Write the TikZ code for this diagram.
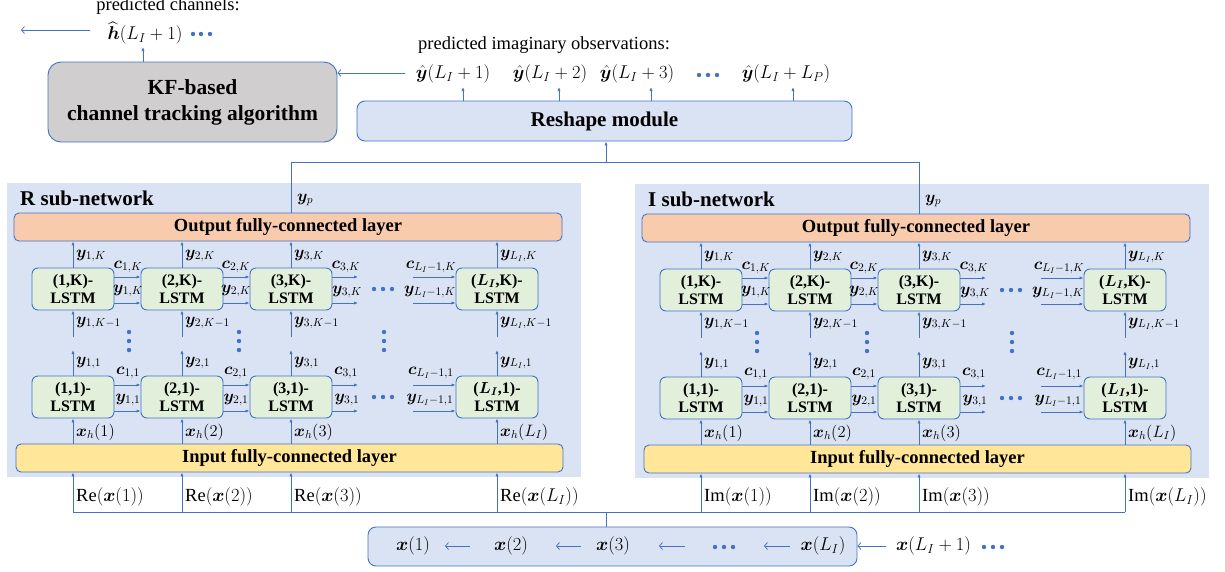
\RequirePackage{fix-cm}
\documentclass[tikz,border=0pt]{standalone}
\usepackage{amsmath}
\usepackage{bm}
\usepackage{fontspec}
\setmainfont{Liberation Serif}
\usetikzlibrary{arrows.meta}
\definecolor{lb}{HTML}{4472C4}
\definecolor{panelc}{HTML}{DAE3F3}
\definecolor{outc}{HTML}{F8CBAD}
\definecolor{inc}{HTML}{FFE699}
\definecolor{lstmc}{HTML}{E2EFDA}
\definecolor{kfc}{HTML}{D0CECE}
\tikzset{
 conn/.style={draw=lb, line width=0.75pt},
 arr/.style={conn, -{Latex[length=4pt,width=3.2pt]}},
 barb/.style={conn, -{Straight Barb[length=3pt,width=7pt]}},
 rbox/.style={draw=lb, line width=0.9pt, inner sep=0pt, align=center},
 lstm/.style={rbox, rounded corners=6pt, fill=lstmc, minimum width=82pt, minimum height=42pt, font=\bfseries\fontsize{16}{18}\selectfont},
 layer/.style={rbox, rounded corners=5pt, minimum height=28pt, font=\bfseries\fontsize{18.5}{20}\selectfont},
 lab/.style={inner sep=0pt, font=\fontsize{16.5}{18}\selectfont},
 big/.style={inner sep=0pt, font=\fontsize{18.5}{20}\selectfont},
 plain/.style={inner sep=0pt, font=\fontsize{18.5}{20}\selectfont},
 title/.style={inner sep=0pt, font=\bfseries\fontsize{21}{23}\selectfont},
}
\begin{document}
\begin{tikzpicture}[x=1pt,y=-1pt]
\useasboundingbox (0,0) rectangle (1225,571);

% ---------- top ----------
\node[plain, anchor=base] (pch) at (168,10) {predicted channels:};
\node[big] (hh) at (145,33) {$\widehat{\bm{h}}(L_I+1)$};
\foreach \xx in {193,201,210} \fill[lb] (\xx,34) circle (2.2pt);
\coordinate (hs) at (90,30);
\coordinate (he) at (21,30);
\draw[barb] (hs) -- (he);
\node[rbox, fill=kfc, rounded corners=13pt, minimum width=289pt, minimum height=80pt,
      font=\bfseries\fontsize{21.5}{26}\selectfont] (kf) at (192.5,102) {KF-based\\channel tracking algorithm};
\coordinate (hin) at (143,47);
\draw[arr] (kf.north -| hin) -- (hin);

\node[plain, anchor=base] (pio) at (544,49) {predicted imaginary observations:};
\node[big] (yh1) at (453,74) {$\hat{\bm{y}}(L_I+1)$};
\node[big] (yh2) at (550,74) {$\hat{\bm{y}}(L_I+2)$};
\node[big] (yh3) at (637,74) {$\hat{\bm{y}}(L_I+3)$};
\foreach \xx in {699,708,717} \fill[lb] (\xx,75) circle (2.2pt);
\node[big] (yhP) at (786,74) {$\hat{\bm{y}}(L_I+L_P)$};
\node[rbox, fill=panelc, rounded corners=8pt, minimum width=495pt, minimum height=40pt,
      font=\bfseries\fontsize{21}{23}\selectfont] (rs) at (604.5,121) {Reshape module};
\foreach \k/\xx in {1/463,2/559,3/651,4/793} {
  \coordinate (o\k) at (\xx,87);
  \draw[arr] (rs.north -| o\k) -- (o\k);
}
\coordinate (ys) at (405,73);
\draw[barb] (ys) -- (ys -| kf.east);

% ---------- sub-networks ----------
\foreach \pn/\dx/\dy in {R/0/0, I/628/1} {
\begin{scope}[shift={(\dx,\dy)}]
 \fill[panelc] (7,183) rectangle (581,477);
 \node[title, anchor=west] (\pn title) at (20,198) {\pn{} sub-network};
 \node[lab, anchor=west] (\pn yp) at (297,200) {$\bm{y}_p$};
 \node[layer, fill=outc, minimum width=548pt] (\pn out) at (288,227) {Output fully-connected layer};
 \node[layer, fill=inc, minimum width=547pt] (\pn in) at (289.5,458) {Input fully-connected layer};
 \foreach \i/\cx/\s/\tx in {1/73/1/1, 2/182/2/2, 3/291/3/3, L/497/L_I/{$\bm{L_I}$}} {
  \node[lstm] (\pn\i t) at (\cx,289) {(\tx,K)-\\LSTM};
  \node[lstm] (\pn\i b) at (\cx,397) {(\tx,1)-\\LSTM};
  \draw[arr] (\pn\i t.north) -- (\pn\i t.north |- \pn out.south);
  \node[lab, anchor=west] (\pn\i yk) at (\cx+3,256) {$\bm{y}_{\s,K}$};
  \coordinate (\pn\i tl) at (\cx,337);
  \draw[arr] (\pn\i tl) -- (\pn\i t.south);
  \node[lab, anchor=west] (\pn\i ykm) at (\cx+3,323) {$\bm{y}_{\s,K-1}$};
  \coordinate (\pn\i bu) at (\cx,350);
  \draw[arr] (\pn\i b.north) -- (\pn\i bu);
  \node[lab, anchor=west] (\pn\i yo) at (\cx+3,363) {$\bm{y}_{\s,1}$};
  \draw[arr] (\pn\i b.south |- \pn in.north) -- (\pn\i b.south);
  \node[lab, anchor=west] (\pn\i xh) at (\cx+3,432) {$\bm{x}_h(\s)$};
 }
 \foreach \a/\b/\m in {1/2/128, 2/3/236} {
  \draw[arr] (\pn\a t.east |- 0,277) -- (\pn\b t.west |- 0,277);
  \draw[arr] (\pn\a t.east |- 0,303) -- (\pn\b t.west |- 0,303);
  \draw[arr] (\pn\a b.east |- 0,385) -- (\pn\b b.west |- 0,385);
  \draw[arr] (\pn\a b.east |- 0,411) -- (\pn\b b.west |- 0,411);
  \node[lab] (\pn\a ct) at (\m,267) {$\bm{c}_{\a,K}$};
  \node[lab] (\pn\a yt) at (\m,291) {$\bm{y}_{\a,K}$};
  \node[lab] (\pn\a cb) at (\m,373) {$\bm{c}_{\a,1}$};
  \node[lab] (\pn\a yb) at (\m,400) {$\bm{y}_{\a,1}$};
 }
 \coordinate (\pn3tc) at (358,277);
 \coordinate (\pn3ty) at (358,303);
 \coordinate (\pn3bc) at (358,385);
 \coordinate (\pn3by) at (358,411);
 \draw[arr] (\pn3t.east |- \pn3tc) -- (\pn3tc);
 \draw[arr] (\pn3t.east |- \pn3ty) -- (\pn3ty);
 \draw[arr] (\pn3b.east |- \pn3bc) -- (\pn3bc);
 \draw[arr] (\pn3b.east |- \pn3by) -- (\pn3by);
 \node[lab] (\pn3ct) at (346,267) {$\bm{c}_{3,K}$};
 \node[lab] (\pn3yt) at (347,292) {$\bm{y}_{3,K}$};
 \node[lab] (\pn3cb) at (346,373) {$\bm{c}_{3,1}$};
 \node[lab] (\pn3yb) at (347,400) {$\bm{y}_{3,1}$};
 \coordinate (\pn Ltc) at (413,277);
 \coordinate (\pn Lty) at (413,303);
 \coordinate (\pn Lbc) at (413,385);
 \coordinate (\pn Lby) at (413,411);
 \draw[arr] (\pn Ltc) -- (\pn Lt.west |- \pn Ltc);
 \draw[arr] (\pn Lty) -- (\pn Lt.west |- \pn Lty);
 \draw[arr] (\pn Lbc) -- (\pn Lb.west |- \pn Lbc);
 \draw[arr] (\pn Lby) -- (\pn Lb.west |- \pn Lby);
 \node[lab] (\pn Lct) at (431,267) {$\bm{c}_{L_I-1,K}$};
 \node[lab] (\pn Lyt) at (430,292) {$\bm{y}_{L_I-1,K}$};
 \node[lab] (\pn Lcb) at (431,373) {$\bm{c}_{L_I-1,1}$};
 \node[lab] (\pn Lyb) at (430,400) {$\bm{y}_{L_I-1,1}$};
 \foreach \xx in {374,383,392} {
  \fill[lb] (\xx,289) circle (2.2pt);
  \fill[lb] (\xx,397) circle (2.2pt);
 }
 \foreach \xx in {129,239,384} {
  \foreach \yy in {332,341,350} \fill[lb] (\xx,\yy) circle (2.2pt);
 }
\end{scope}
}

% join to reshape module
\draw[conn] (Rout.north -| R3t) -- (R3t |- 0,162) -| (Iout.north -| I3t);
\coordinate (join) at (606,162);
\draw[arr] (join) -- (rs.south -| join);

% ---------- inputs ----------
\draw[conn] (R1b |- 0,512) -- (ILb |- 0,512);
\foreach \pn/\lt in {R/Re, I/Im} {
 \foreach \i/\s in {1/1, 2/2, 3/3, L/L_I} {
  \draw[arr] (\pn\i b |- 0,512) -- (\pn\i b |- \pn in.south);
  \node[plain, anchor=west, xshift=3pt] (\pn\i inl) at (\pn\i b |- 0,497) {$\mathrm{\lt}(\bm{x}(\s))$};
 }
}
\coordinate (join2) at (606,512);
\node[rbox, fill=panelc, rounded corners=8pt, minimum width=489pt, minimum height=39pt] (bb) at (612.5,546.5) {};
\draw[conn] (join2) -- (bb.north -| join2);
\node[big] (x1) at (413,546) {$\bm{x}(1)$};
\node[big] (x2) at (511,546) {$\bm{x}(2)$};
\node[big] (x3) at (613,546) {$\bm{x}(3)$};
\foreach \xx in {715,724,733} \fill[lb] (\xx,547) circle (2.2pt);
\node[big] (xL) at (823,546) {$\bm{x}(L_I)$};
\node[big, anchor=west] (xL1) at (896,546) {$\bm{x}(L_I+1)$};
\foreach \xx in {984,993,1002} \fill[lb] (\xx,547) circle (2.2pt);
\foreach \k/\sa/\ea in {1/470/445, 2/581/556, 3/685/659, 4/790/764} {
 \coordinate (as\k) at (\sa,546);
 \coordinate (ae\k) at (\ea,546);
 \draw[barb] (as\k) -- (ae\k);
}
\coordinate (as5) at (886,546);
\draw[barb] (as5) -- (as5 -| bb.east);
\end{tikzpicture}
\end{document}
